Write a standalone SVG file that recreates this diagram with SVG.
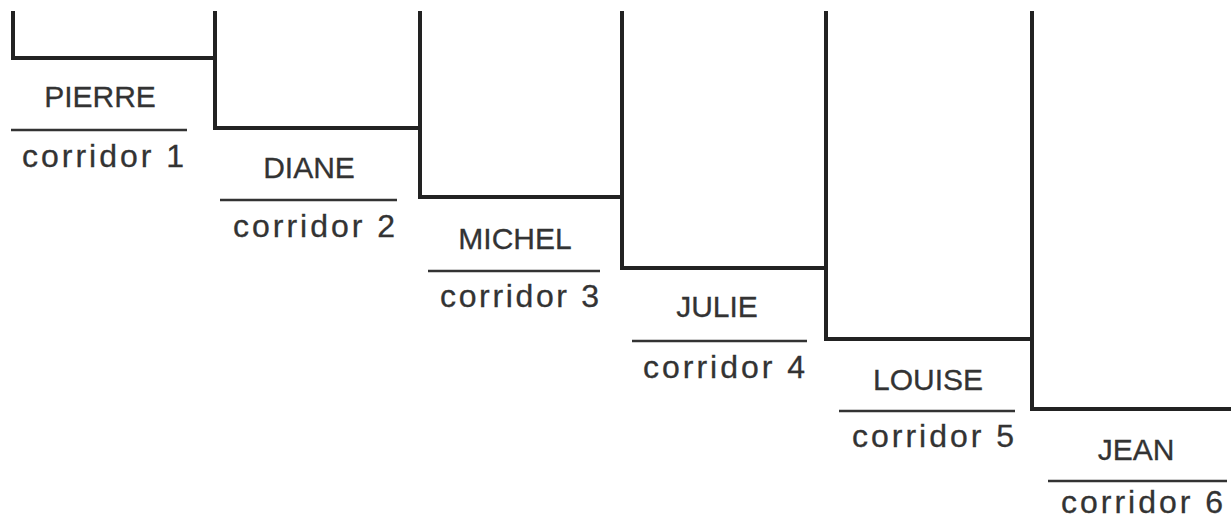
<svg xmlns="http://www.w3.org/2000/svg" width="1231" height="518" viewBox="0 0 1231 518">
<style>
.wall{fill:none;stroke:#222;stroke-width:4;stroke-linejoin:miter;stroke-linecap:square}
.ul{stroke:#333;stroke-width:2.5}
.name{font-family:"Liberation Sans",Arial,sans-serif;font-size:30px;fill:#333;stroke:#333;stroke-width:0.3;text-anchor:middle}
.cor{font-family:"Liberation Sans",Arial,sans-serif;font-size:32px;fill:#333;stroke:#333;stroke-width:0.3}
</style>
<rect width="1231" height="518" fill="#fff"/>
<g id="connectors">
<path class="wall" d="M13,13 V58 H215"/>
<path class="wall" d="M215,13 V128 H420"/>
<path class="wall" d="M420,13 V197 H622"/>
<path class="wall" d="M622,13 V268 H826"/>
<path class="wall" d="M826,13 V339 H1032"/>
<path class="wall" d="M1032,13 V409 H1231"/>
</g>
<g id="pierre">
<text class="name" x="100" y="107">PIERRE</text>
<line class="ul" x1="11" y1="130" x2="187" y2="130"/>
<text class="cor" x="22" y="167" textLength="162" lengthAdjust="spacing">corridor 1</text>
</g>
<g id="diane">
<text class="name" x="309" y="178">DIANE</text>
<line class="ul" x1="220" y1="200" x2="397" y2="200"/>
<text class="cor" x="233" y="237" textLength="162" lengthAdjust="spacing">corridor 2</text>
</g>
<g id="michel">
<text class="name" x="515" y="249">MICHEL</text>
<line class="ul" x1="428" y1="271" x2="600" y2="271"/>
<text class="cor" x="440" y="307" textLength="159" lengthAdjust="spacing">corridor 3</text>
</g>
<g id="julie">
<text class="name" x="717" y="317">JULIE</text>
<line class="ul" x1="632" y1="341" x2="807" y2="341"/>
<text class="cor" x="643" y="378" textLength="162" lengthAdjust="spacing">corridor 4</text>
</g>
<g id="louise">
<text class="name" x="928" y="390">LOUISE</text>
<line class="ul" x1="839" y1="411" x2="1015" y2="411"/>
<text class="cor" x="852" y="447" textLength="162" lengthAdjust="spacing">corridor 5</text>
</g>
<g id="jean">
<text class="name" x="1136" y="460">JEAN</text>
<line class="ul" x1="1048" y1="481" x2="1227" y2="481"/>
<text class="cor" x="1061" y="513" textLength="162" lengthAdjust="spacing">corridor 6</text>
</g>
</svg>
